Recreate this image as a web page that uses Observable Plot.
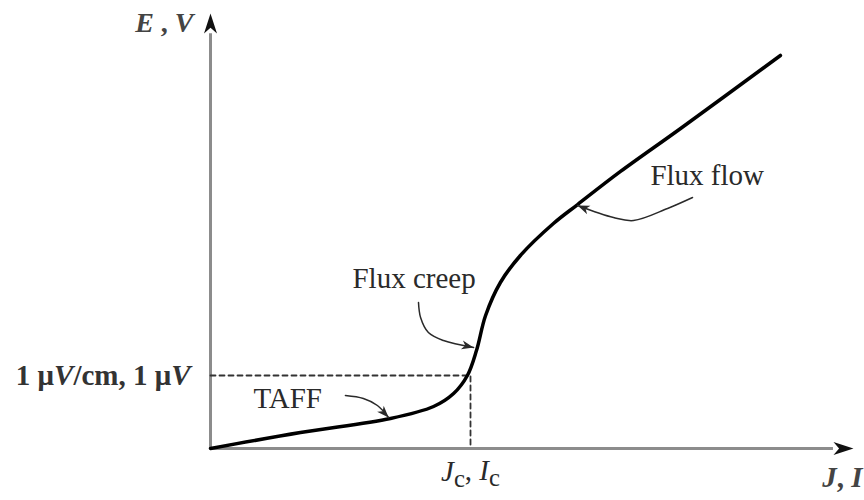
<!DOCTYPE html>
<html>
<head>
<meta charset="utf-8">
<script src="https://cdn.jsdelivr.net/npm/d3@7"></script>
<script src="https://cdn.jsdelivr.net/npm/@observablehq/plot@0.6"></script>
<style>
  html, body { margin: 0; padding: 0; background: #fff; }
  #chart { width: 864px; height: 500px; }
</style>
</head>
<body>
<div id="chart"></div>
<script>
// E–J characteristic of a superconductor (J in units of Jc, E in units of the 1 µV/cm criterion)
const currentJ = [0, 0.346, 0.692, 0.858, 0.935, 0.988, 1.023, 1.058, 1.115, 1.192, 1.319, 1.412, 1.577, 1.808, 2.192];
const fieldE   = [0, 0.219, 0.411, 0.575, 0.753, 1.0, 1.342, 1.822, 2.274, 2.644, 3.082, 3.342, 3.795, 4.384, 5.384];

// Critical point (criterion)
const criticalJ = 1;
const criticalE = 1;

// Axis extents (where the axis arrows end)
const axisEndJ = 2.473;
const axisEndE = 5.96;

// Regime labels and their pointer arrows (J, E)
const regimeNames = ["TAFF", "Flux creep", "Flux flow"];
const regimeLabelJ = [0.165, 0.546, 1.692];
const regimeLabelE = [0.56, 2.205, 3.603];
const taffArrow  = [[0.519, 0.726], [0.588, 0.685], [0.642, 0.589], [0.685, 0.425]];
const creepArrow = [[0.8, 2.0], [0.808, 1.795], [0.838, 1.589], [0.896, 1.479], [1.012, 1.384]];
const flowArrow  = [[1.854, 3.438], [1.758, 3.288], [1.627, 3.123], [1.55, 3.164], [1.412, 3.329]];

// Axis and tick texts (*x* = italic, _x = subscript)
const yAxisTitle = "*E* , *V*";
const xAxisTitle = "*J*, *I*";
const criticalJLabel = "*J*_c, *I*_c";
const criticalELabel = "1 μ*V*/cm, 1 μ*V*";

const curve = currentJ.map((j, i) => ({j, e: fieldE[i]}));
const regimes = regimeNames.map((name, i) => ({name, j: regimeLabelJ[i], e: regimeLabelE[i]}));

// Filled "stealth" arrowhead, tip at the origin pointing up
function stealth(len, wid) {
  return {
    draw(ctx) {
      ctx.moveTo(0, 0);
      ctx.lineTo(wid / 2, len);
      ctx.lineTo(0, len * 0.72);
      ctx.lineTo(-wid / 2, len);
      ctx.closePath();
    }
  };
}
const axisHead = stealth(20, 13);
const smallHead = stealth(12, 9);

const ink = "#2a2a2a";
const axisGray = "#8c8c8c";
const font = "Liberation Serif";

function pointer(points, rotate) {
  return [
    Plot.line(points, {x: "0", y: "1", curve: "catmull-rom", stroke: ink, strokeWidth: 1.5}),
    Plot.dot([points[points.length - 1]], {x: "0", y: "1", symbol: smallHead, rotate, fill: ink, stroke: "none"})
  ];
}

const chart = Plot.plot({
  width: 864,
  height: 500,
  marginLeft: 210,
  marginRight: 4,
  marginTop: 10,
  marginBottom: 52,
  x: {domain: [0, 2.5], axis: null},
  y: {domain: [0, 6], axis: null},
  style: {fontFamily: font, background: "#fff"},
  marks: [
    // axes
    Plot.ruleX([0], {y1: 0, y2: axisEndE - 0.28, stroke: axisGray, strokeWidth: 3}),
    Plot.ruleY([0], {x1: 0, x2: axisEndJ - 0.077, stroke: axisGray, strokeWidth: 3}),
    Plot.dot([[0, axisEndE]], {x: "0", y: "1", symbol: axisHead, rotate: 0, fill: "#111", stroke: "none"}),
    Plot.dot([[axisEndJ, 0]], {x: "0", y: "1", symbol: axisHead, rotate: 90, fill: "#111", stroke: "none"}),

    // criterion guides
    Plot.line([[0, criticalE], [criticalJ, criticalE], [criticalJ, 0]], {
      x: "0", y: "1", stroke: "#333", strokeWidth: 1.8, strokeDasharray: "5,4"
    }),

    // E–J curve
    Plot.line(curve, {x: "j", y: "e", curve: "catmull-rom", stroke: "#000", strokeWidth: 3.5}),

    // regime pointers
    ...pointer(taffArrow, 137),
    ...pointer(creepArrow, 103),
    ...pointer(flowArrow, 292),

    // regime labels
    Plot.text(regimes, {x: "j", y: "e", text: "name", textAnchor: "start", lineAnchor: "bottom",
      fontSize: 29, fill: ink}),

    // axis titles and criterion labels
    Plot.text([yAxisTitle], {x: 0, y: 5.71, text: d => d, textAnchor: "end", lineAnchor: "bottom",
      dx: -17, fontSize: 28, fontWeight: "bold", fill: "#444"}),
    Plot.text([xAxisTitle], {x: 2.5, y: -0.53, text: d => d, textAnchor: "end", lineAnchor: "bottom",
      dx: 2, fontSize: 29, fontWeight: "bold", fill: "#444"}),
    Plot.text([criticalJLabel], {x: criticalJ, y: -0.44, text: d => d, textAnchor: "middle", lineAnchor: "bottom",
      fontSize: 29, fill: ink}),
    Plot.text([criticalELabel], {x: 0, y: criticalE, text: d => d, textAnchor: "end", lineAnchor: "middle",
      dx: -20, fontSize: 29, fontWeight: "bold", fill: "#333"})
  ]
});

// Turn the small markup (*italic*, _sub) into tspans
d3.select(chart).selectAll("text").each(function () {
  const el = d3.select(this);
  const raw = el.text();
  if (!/[*_]/.test(raw)) return;
  el.text(null);
  const parts = raw.split(/(\*[^*]+\*|_[A-Za-z])/).filter(s => s.length);
  let lowered = false;
  for (const p of parts) {
    const t = el.append("tspan");
    if (p.startsWith("*")) {
      t.text(p.slice(1, -1)).attr("font-style", "italic");
      if (lowered) { t.attr("dy", "-0.25em"); lowered = false; }
    } else if (p.startsWith("_")) {
      t.text(p.slice(1)).attr("dy", "0.25em").attr("font-size", "0.85em");
      lowered = true;
    } else {
      t.text(p);
      if (lowered) { t.attr("dy", "-0.25em"); lowered = false; }
    }
  }
});

document.getElementById("chart").appendChild(chart);
</script>
</body>
</html>
